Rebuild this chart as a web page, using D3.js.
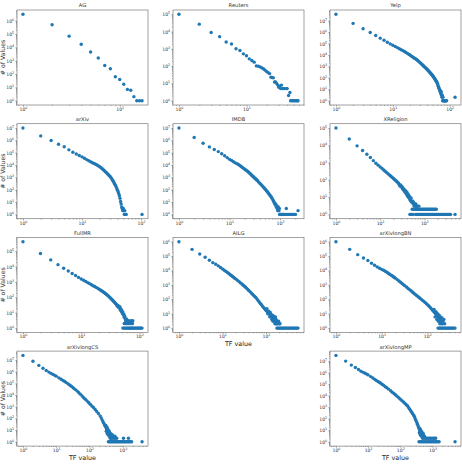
<!DOCTYPE html>
<html>
<head>
<meta charset="utf-8">
<script src="https://cdn.jsdelivr.net/npm/d3@7"></script>
<style>
  body { margin: 0; background: #fff; }
  svg { display: block; font-family: "DejaVu Sans", sans-serif; }
</style>
</head>
<body>
<svg id="chart" width="462" height="467"></svg>
<script>
// [TF value, number of values]
const agPts = [[1,3.0e6],[2,4.9e5],[3,6.9e4],[4,1.7e4],[5,4500],[6,1600],[7,440],[8,250],[9,62],[10,39],[11,17],[12,7],[13,6],[14,2],[15,1],[16,1],[17,1]];

const reutersPts = [[1,1.0e5],[2,2.7e4],[3,8900],[4,5100],[5,2500],[6,1900],[7,1020],[8,810],[9,515],[10,400],[11,265],[12,210],[13,170],[14,103],[15,98],[16,90],[17,78],[18,68],[19,57],[20,48],[21,42],[22,37],[23,23],[24,22],[25,21],[26,12],[27,12],[28,10],[29,8],[30,6],[31,7],[32,5],[33,8],[34,5],[35,5],[37,5],[39,5],[40,5],[42,2],[44,3]];
const reutersOnes = [45,47,49,51,53,55,57,58];

const yelpPts = [[1,3.6e7],[2,5.8e6],[3,1.95e6],[4,9.3e5],[5,5.0e5],[6,2.95e5],[7,1.95e5],[8,1.3e5],[9,9.3e4],[10,7.1e4],[11,5.5e4],[12,4.4e4],[13,3.5e4],[14,2.9e4],[15,2.4e4],[16,2.0e4],[17,1.66e4],[18,1.38e4],[19,1.15e4],[20,9800],[21,8300],[22,7100],[23,6000],[24,5200],[25,4600],[26,4000],[27,3500],[28,2950],[29,2500],[30,2140],[31,1860],[32,1580],[33,1380],[34,1200],[35,1050],[36,910],[37,810],[38,710],[39,630],[40,560],[41,490],[42,430],[43,370],[44,330],[45,290],[46,250],[47,224],[48,195],[49,174],[50,155],[51,138],[52,120],[53,105],[54,89],[55,78],[56,66],[57,58],[58,50],[59,43],[60,37],[61,30],[62,24],[63,18],[64,14],[65,12],[66,9],[67,7],[68,8],[69,5],[70,4],[71,6],[72,3],[73,2],[74,3],[76,2],[124,2]];
const yelpOnes = [75,77,78,80,82,83,85,86,88];

const arxivPts = [[1,1.0e7],[2,2.3e6],[3,9.8e5],[4,4.9e5],[5,3.0e5],[6,1.7e5],[7,1.1e5],[8,7.9e4],[9,5.9e4],[10,4.6e4],[11,3.5e4],[12,2.75e4],[13,2.2e4],[14,1.86e4],[15,1.55e4],[16,1.32e4],[17,1.15e4],[18,1.02e4],[19,8500],[20,7200],[21,6000],[22,5000],[23,4200],[24,3400],[25,2800],[26,2350],[27,1950],[28,1620],[29,1380],[30,1170],[31,950],[32,760],[33,590],[34,460],[35,355],[36,275],[37,220],[38,162],[39,120],[40,89],[41,65],[42,48],[43,32],[44,20],[45,11],[46,7],[47,4],[48,3],[49,2],[50,3],[51,2],[53,2]];
const arxivOnes = [52,55,56,104];

const imdbPts = [[1,1.0e7],[2,1.7e6],[3,5.9e5],[4,2.95e5],[5,1.8e5],[6,1.23e5],[7,8.2e4],[8,5.6e4],[9,4.0e4],[10,2.9e4],[11,2.3e4],[12,1.85e4],[13,1.5e4],[14,1.3e4],[15,1.1e4],[16,9100],[17,7600],[18,6300],[19,5400],[20,4600],[21,4000],[22,3500],[23,3000],[24,2600],[25,2200],[26,1860],[27,1620],[28,1380],[29,1230],[30,1070],[31,930],[32,830],[33,740],[34,660],[35,590],[36,525],[38,410],[40,325],[42,265],[44,215],[46,175],[48,145],[50,120],[52,100],[54,83],[56,68],[58,56],[60,47],[62,39],[64,32],[66,28],[68,22],[70,19],[72,15],[74,12],[76,10],[78,8],[80,6],[82,7],[84,4],[86,5],[88,3],[90,2],[92,4],[95,2],[97,3],[133,3],[227,2]];
const imdbOnes = [98,100,103,106,110,114,118,122,127,138,145,152,160,170,180,190,202];

const xrelPts = [[1,1.0e5],[2,2.3e4],[3,9300],[4,5000],[5,3000],[6,1950],[7,1290],[8,910],[9,710],[10,560],[11,460],[12,370],[13,316],[14,263],[15,229],[16,195],[17,174],[18,151],[19,135],[20,120],[21,107],[22,95],[23,85],[24,79],[25,69],[26,63],[27,52],[28,44],[29,50],[30,38],[31,42],[32,30],[33,33],[34,25],[35,28],[36,20],[37,24],[38,18],[39,15],[40,20],[41,12],[42,16],[43,10],[44,13],[45,9],[46,11],[47,7],[48,8],[49,6],[50,9],[52,5],[54,6],[56,4],[57,5],[59,3],[60,4],[62,3],[64,4],[67,3],[70,3],[75,3]];
const xrelTwos = [53,58,61,65,68,72,76,80,85,90,95,100,106,112,118,125,132,140,148,157,166,176,186];
const xrelOnes = [47,49,51,55,63,66,69,74,78,82,86,91,96,102,108,114,120,127,134,142,150,158,167,176,186,196,207,218,230,243,256,270,285,300,316,333,351,370,390,493];

const fullmrPts = [[1,4.2e5],[2,7.1e4],[3,2.75e4],[4,1.35e4],[5,7900],[6,5250],[7,3550],[8,2630],[9,2000],[10,1580],[11,1290],[12,1070],[13,910],[14,780],[15,660],[16,575],[17,510],[18,450],[19,400],[20,355],[21,316],[22,282],[23,250],[24,224],[25,200],[26,178],[27,158],[28,141],[29,126],[30,112],[31,100],[32,89],[33,79],[34,71],[35,63],[36,55],[37,50],[38,44],[39,40],[40,35],[41,32],[42,26],[43,30],[44,23],[45,20],[46,25],[47,15],[48,18],[49,12],[50,14],[51,9],[52,11],[53,7],[54,8],[55,5],[56,6],[57,4],[58,3],[60,4],[62,3],[66,3],[72,3],[77,3]];
const fullmrTwos = [55,57,59,61,63,65,67,70,73,76];
const fullmrOnes = [52,54,56,58,60,62,64,66,68,70,72,74,76,78,80,83,86,89,92,95,98,101,104,107,111];

const ailgPts = [[1,1.0e6],[2,2.95e5],[3,1.4e5],[4,8.3e4],[5,5.1e4],[6,3.5e4],[7,2.7e4],[8,2.1e4],[9,1.62e4],[10,1.29e4],[11,1.05e4],[12,8700],[13,7200],[14,6200],[15,5100],[16,4470],[17,3890],[18,3390],[19,2950],[20,2630],[22,2090],[24,1700],[26,1380],[28,1150],[30,955],[32,810],[34,690],[36,575],[38,490],[40,415],[43,340],[46,270],[49,224],[52,186],[55,158],[58,135],[62,105],[66,81],[70,65],[74,52],[78,43],[82,35],[87,28],[92,23],[97,19],[102,16],[105,22],[108,13],[110,10],[114,11],[116,15],[120,9],[122,6],[125,12],[127,7],[130,9],[134,6],[136,4],[140,8],[142,5],[145,3],[148,7],[150,4],[155,5],[158,3],[160,2],[165,6],[167,3],[170,4],[172,2],[176,2],[180,3],[185,2],[195,3],[200,2],[210,2]];
const ailgOnes = [178,186,195,204,214,224,235,246,258,270,283,296,310,325,340,356,373,391,410,430,450,472,495,520,545];

const bnPts = [[1,1.0e6],[2,2.95e5],[3,1.26e5],[4,7.4e4],[5,4.9e4],[6,3.2e4],[7,2.3e4],[8,1.78e4],[9,1.45e4],[10,1.2e4],[11,1.05e4],[12,8900],[13,7600],[14,6500],[15,5500],[16,4800],[17,4300],[18,3700],[19,3300],[20,2950],[22,2340],[24,1860],[26,1510],[28,1260],[30,1050],[32,890],[35,710],[38,560],[41,470],[44,390],[47,320],[50,275],[54,224],[58,186],[62,158],[66,132],[70,115],[75,95],[80,81],[85,69],[90,59],[96,49],[102,41],[108,34],[115,28],[122,22],[129,19],[136,15],[140,20],[144,12],[148,6],[152,10],[155,14],[160,8],[162,4],[168,10],[170,6],[175,3],[180,5],[182,8],[188,2],[190,4],[195,6],[200,3],[205,2],[210,5],[215,2],[220,3],[230,4],[240,2]];
const bnOnes = [172,180,188,196,205,214,224,234,245,256,268,280,293,306,320,335,350,366,383,405];

const csPts = [[1,2.5e7],[2,7.8e6],[3,3.5e6],[4,2.0e6],[5,1.29e6],[6,9.3e5],[7,7.2e5],[8,5.9e5],[9,4.9e5],[10,4.2e5],[12,3.0e5],[14,2.3e5],[16,1.78e5],[18,1.45e5],[20,1.17e5],[23,8.9e4],[26,6.9e4],[29,5.4e4],[33,4.0e4],[37,3.1e4],[42,2.3e4],[47,1.7e4],[53,1.2e4],[60,8300],[67,6000],[75,4400],[84,3200],[94,2300],[105,1660],[118,1170],[132,870],[148,590],[165,400],[185,263],[209,166],[225,112],[240,76],[255,52],[270,38],[285,28],[300,21],[310,25],[315,16],[320,8],[330,12],[335,18],[340,5],[345,9],[355,12],[360,7],[365,4],[375,6],[380,9],[390,5],[395,3],[400,7],[410,4],[420,2],[430,3],[440,5],[450,2],[460,3],[480,4],[500,2],[520,3],[550,2],[580,3],[620,2],[660,2],[1050,2],[1480,2]];
const csOnes = [370,400,430,465,500,540,580,625,675,730,790,850,920,990,1070,1150,1240,1340,1450,1560,1700,1850,3800];

const mpPts = [[1,3.1e7],[2,1.0e7],[3,4.5e6],[4,2.75e6],[5,1.86e6],[6,1.32e6],[7,1.05e6],[8,8.7e5],[9,7.4e5],[10,6.3e5],[12,4.5e5],[14,3.4e5],[16,2.6e5],[18,2.1e5],[20,1.74e5],[22,1.48e5],[24,1.26e5],[27,9.8e4],[30,7.9e4],[34,6.0e4],[38,4.8e4],[43,3.7e4],[50,2.7e4],[56,2.0e4],[63,1.55e4],[70,1.2e4],[79,8900],[89,6600],[100,5000],[112,3700],[125,2800],[140,2100],[155,1580],[166,1320],[180,950],[195,680],[210,490],[225,365],[240,275],[255,214],[268,174],[280,126],[295,87],[310,63],[325,46],[340,33],[355,24],[370,17],[385,13],[390,6],[400,9],[405,14],[415,4],[420,7],[430,10],[440,5],[450,3],[460,4],[470,7],[480,3],[520,5],[540,3],[560,3]];
const mpTwos = [490,540,600,660,730,800,880,970,1070,1180,1250];
const mpOnes = [380,415,455,500,545,600,650,715,780,850,930,1020,1110,1220,1330,1460,1600,5000];

const panels = [
    { name: 'AG', pts: agPts, ones: [], twos: [], row: 0, col: 0 },
    { name: 'Reuters', pts: reutersPts, ones: reutersOnes, twos: [], row: 0, col: 1 },
    { name: 'Yelp', pts: yelpPts, ones: yelpOnes, twos: [], row: 0, col: 2 },
    { name: 'arXiv', pts: arxivPts, ones: arxivOnes, twos: [], row: 1, col: 0 },
    { name: 'IMDB', pts: imdbPts, ones: imdbOnes, twos: [], row: 1, col: 1 },
    { name: 'XReligion', pts: xrelPts, ones: xrelOnes, twos: xrelTwos, row: 1, col: 2 },
    { name: 'FullMR', pts: fullmrPts, ones: fullmrOnes, twos: fullmrTwos, row: 2, col: 0 },
    { name: 'AILG', pts: ailgPts, ones: ailgOnes, twos: [], row: 2, col: 1, xlabel: true },
    { name: 'arXivlongBN', pts: bnPts, ones: bnOnes, twos: [], row: 2, col: 2 },
    { name: 'arXivlongCS', pts: csPts, ones: csOnes, twos: [], row: 3, col: 0, xlabel: true },
    { name: 'arXivlongMP', pts: mpPts, ones: mpOnes, twos: mpTwos, row: 3, col: 2, xlabel: true }
];

const layout = { left: [17, 173, 330], top: [10, 123.7, 237.4, 351.1], w: 131, h: 95 };
const dotColor = '#1f77b4';

const svg = d3.select('#chart');

// matplotlib style: 5% margin on each side in log space
function padLog(ext) {
    const a = Math.log10(ext[0]), b = Math.log10(ext[1]);
    const m = (b - a) * 0.05;
    return [Math.pow(10, a - m), Math.pow(10, b + m)];
}

function decades(domain) {
    const lo = Math.log10(domain[0]), hi = Math.log10(domain[1]);
    const major = [], minor = [];
    for (let e = Math.floor(lo); e <= Math.ceil(hi); e++) {
        if (e >= lo - 1e-9 && e <= hi + 1e-9) major.push(Math.pow(10, e));
        for (let k = 2; k < 10; k++) {
            const v = k * Math.pow(10, e);
            if (v >= domain[0] && v <= domain[1]) minor.push(v);
        }
    }
    return { major, minor };
}

function powLabel(text) {
    text.each(function(d) {
        const t = d3.select(this);
        t.text(null);
        t.append('tspan').text('10');
        t.append('tspan').attr('font-size', 3.3).attr('dy', -2).text(Math.round(Math.log10(d)));
    });
}

function drawPanel(p) {
    const data = p.pts.concat(p.ones.map(v => [v, 1]), p.twos.map(v => [v, 2]));
    const x = d3.scaleLog()
        .domain(padLog(d3.extent(data, d => d[0])))
        .range([0, layout.w]);
    const y = d3.scaleLog()
        .domain(padLog(d3.extent(data, d => d[1])))
        .range([layout.h, 0]);

    const g = svg.append('g')
        .attr('transform', `translate(${layout.left[p.col]},${layout.top[p.row]})`);

    g.selectAll('.dot')
        .data(data)
        .enter().append('circle')
        .attr('class', 'dot')
        .attr('cx', d => x(d[0]))
        .attr('cy', d => y(d[1]))
        .attr('r', 1.7)
        .attr('fill', dotColor);

    const xt = decades(x.domain()), yt = decades(y.domain());

    const xMinor = g.append('g')
        .attr('transform', `translate(0,${layout.h})`)
        .call(d3.axisBottom(x).tickValues(xt.minor).tickSize(0.9).tickFormat(''));
    const xMajor = g.append('g')
        .attr('transform', `translate(0,${layout.h})`)
        .call(d3.axisBottom(x).tickValues(xt.major).tickSize(1.6).tickPadding(1.2));
    const yMinor = g.append('g')
        .call(d3.axisLeft(y).tickValues(yt.minor).tickSize(0.9).tickFormat(''));
    const yMajor = g.append('g')
        .call(d3.axisLeft(y).tickValues(yt.major).tickSize(1.6).tickPadding(1.2));

    [xMinor, xMajor, yMinor, yMajor].forEach(a => {
        a.attr('color', '#444').attr('font-size', 4.6).attr('font-family', null);
        a.select('.domain').remove();
        a.selectAll('line').attr('stroke-width', 0.5);
    });
    xMajor.selectAll('text').call(powLabel).attr('fill', '#333');
    yMajor.selectAll('text').call(powLabel).attr('fill', '#333');

    g.append('rect')
        .attr('width', layout.w)
        .attr('height', layout.h)
        .attr('fill', 'none')
        .attr('stroke', '#7a7a7a')
        .attr('stroke-width', 0.7);

    g.append('text')
        .attr('x', layout.w / 2)
        .attr('y', -2.6)
        .attr('text-anchor', 'middle')
        .attr('font-size', 5.2)
        .attr('fill', '#333')
        .text(p.name);

    if (p.col === 0) {
        g.append('text')
            .attr('transform', `translate(${-12},${layout.h / 2}) rotate(-90)`)
            .attr('text-anchor', 'middle')
            .attr('font-size', 6.2)
            .attr('fill', '#333')
            .text('# of Values');
    }
    if (p.xlabel) {
        g.append('text')
            .attr('x', layout.w / 2)
            .attr('y', layout.h + 13.5)
            .attr('text-anchor', 'middle')
            .attr('font-size', 6.4)
            .attr('fill', '#222')
            .text('TF value');
    }
}

panels.forEach(drawPanel);
</script>
</body>
</html>
